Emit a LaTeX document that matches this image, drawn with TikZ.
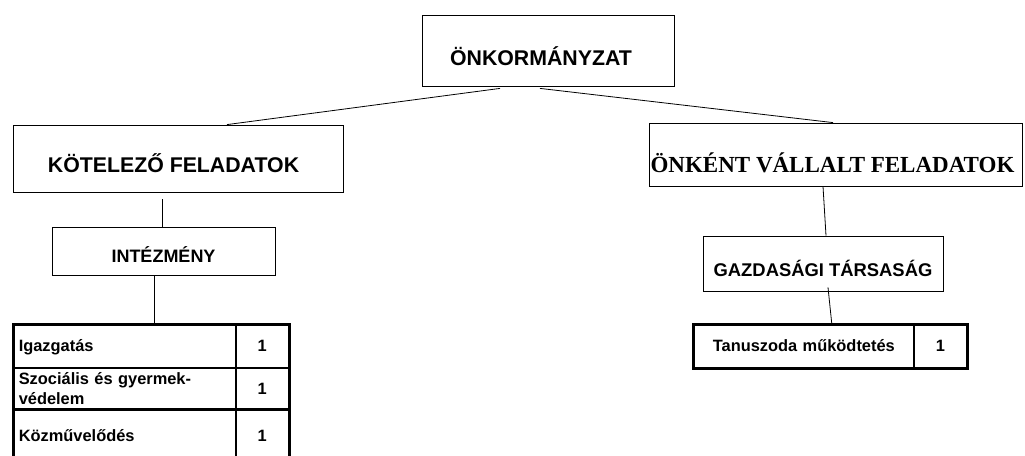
\documentclass[tikz,border=0pt]{standalone}
\usepackage{fontspec}
\setmainfont{Liberation Sans}
\newfontfamily\timesfont{Liberation Serif}

\begin{document}
\begin{tikzpicture}[x=1pt,y=-1pt,
	box/.style={draw, rectangle, line width=0.8pt, inner sep=0pt, text depth=0pt, font=\bfseries\fontsize{21.3}{24}\selectfont},
	cell/.style={draw, rectangle, line width=1.6pt, anchor=north west, inner xsep=5pt, inner ysep=0pt, font=\bfseries\fontsize{16.4}{20}\selectfont},
	oneline/.style={text height=15pt, text depth=4pt},
	thick border/.style={line width=3pt}]
	\useasboundingbox (0,0) rectangle (1025,455);
	\clip (0,0) rectangle (1025,455);
	% boxes
	\node [box, minimum width=252pt, minimum height=71pt, text height=29pt] (n0) at (548,50.5) {ÖNKORMÁNYZAT\hspace*{14pt}};
	\node [box, minimum width=330pt, minimum height=67pt, text height=27pt] (n1) at (178,158.5) {KÖTELEZŐ FELADATOK\hspace*{9pt}};
	\node [box, minimum width=373pt, minimum height=63pt, text height=36pt, font=\timesfont\bfseries\fontsize{23}{26}\selectfont] (n2) at (835.5,154.5) {ÖNKÉNT VÁLLALT FELADATOK\hspace*{6pt}};
	\node [box, minimum width=223pt, minimum height=48pt, text height=22pt, font=\bfseries\fontsize{18}{22}\selectfont] (n3) at (163.5,251) {INTÉZMÉNY};
	\node [box, minimum width=240pt, minimum height=55pt, text height=25pt, font=\bfseries\fontsize{18.4}{22}\selectfont] (n4) at (823,263.5) {GAZDASÁGI TÁRSASÁG};
	% left table
	\node [cell, oneline, minimum width=222pt, minimum height=43pt, text width=212pt, align=left] (t1a) at (13,324) {Igazgatás};
	\node [cell, oneline, minimum width=53pt, minimum height=43pt, text width=43pt, align=center] (t1b) at (235,324) {1};
	\node [cell, minimum width=222pt, minimum height=42pt, text width=212pt, align=left] (t2a) at (13,367) {Szociális és gyermek-\\védelem};
	\node [cell, oneline, minimum width=53pt, minimum height=42pt, text width=43pt, align=center] (t2b) at (235,367) {1};
	\node [cell, oneline, minimum width=222pt, minimum height=52pt, text width=212pt, align=left] (t3a) at (13,409) {Közművelődés};
	\node [cell, oneline, minimum width=53pt, minimum height=52pt, text width=43pt, align=center] (t3b) at (235,409) {1};
	\draw [thick border] (t1a.north west) rectangle (t3b.south east);
	\draw [thick border] (t3a.north west) -- (t3b.north east);
	% right table
	\node [cell, oneline, minimum width=220pt, minimum height=43pt, text width=210pt, align=center] (r1a) at (693,324) {Tanuszoda működtetés};
	\node [cell, oneline, minimum width=53pt, minimum height=43pt, text width=43pt, align=center] (r1b) at (913,324) {1};
	\draw [thick border] (r1a.north west) rectangle (r1b.south east);
	% connectors
	\draw [line width=0.8pt] ([xshift=-48pt,yshift=-2pt]n0.south) -- ([xshift=49pt]n1.north);
	\draw [line width=0.8pt] ([xshift=-8pt,yshift=-2pt]n0.south) -- ([xshift=-2.5pt]n2.north);
	\draw [line width=0.8pt] ([xshift=-16pt,yshift=-7pt]n1.south) -- ([xshift=-1.5pt]n3.north);
	\draw [line width=0.8pt] ([xshift=-9.5pt]n3.south) -- ([xshift=-9.5pt]n3.south |- t1a.north);
	\draw [line width=0.8pt] ([xshift=-12.5pt]n2.south) -- ([xshift=3pt]n4.north);
	\draw [line width=0.8pt] ([xshift=5pt,yshift=4pt]n4.south) -- ([xshift=28pt]r1a.north);
\end{tikzpicture}
\end{document}
